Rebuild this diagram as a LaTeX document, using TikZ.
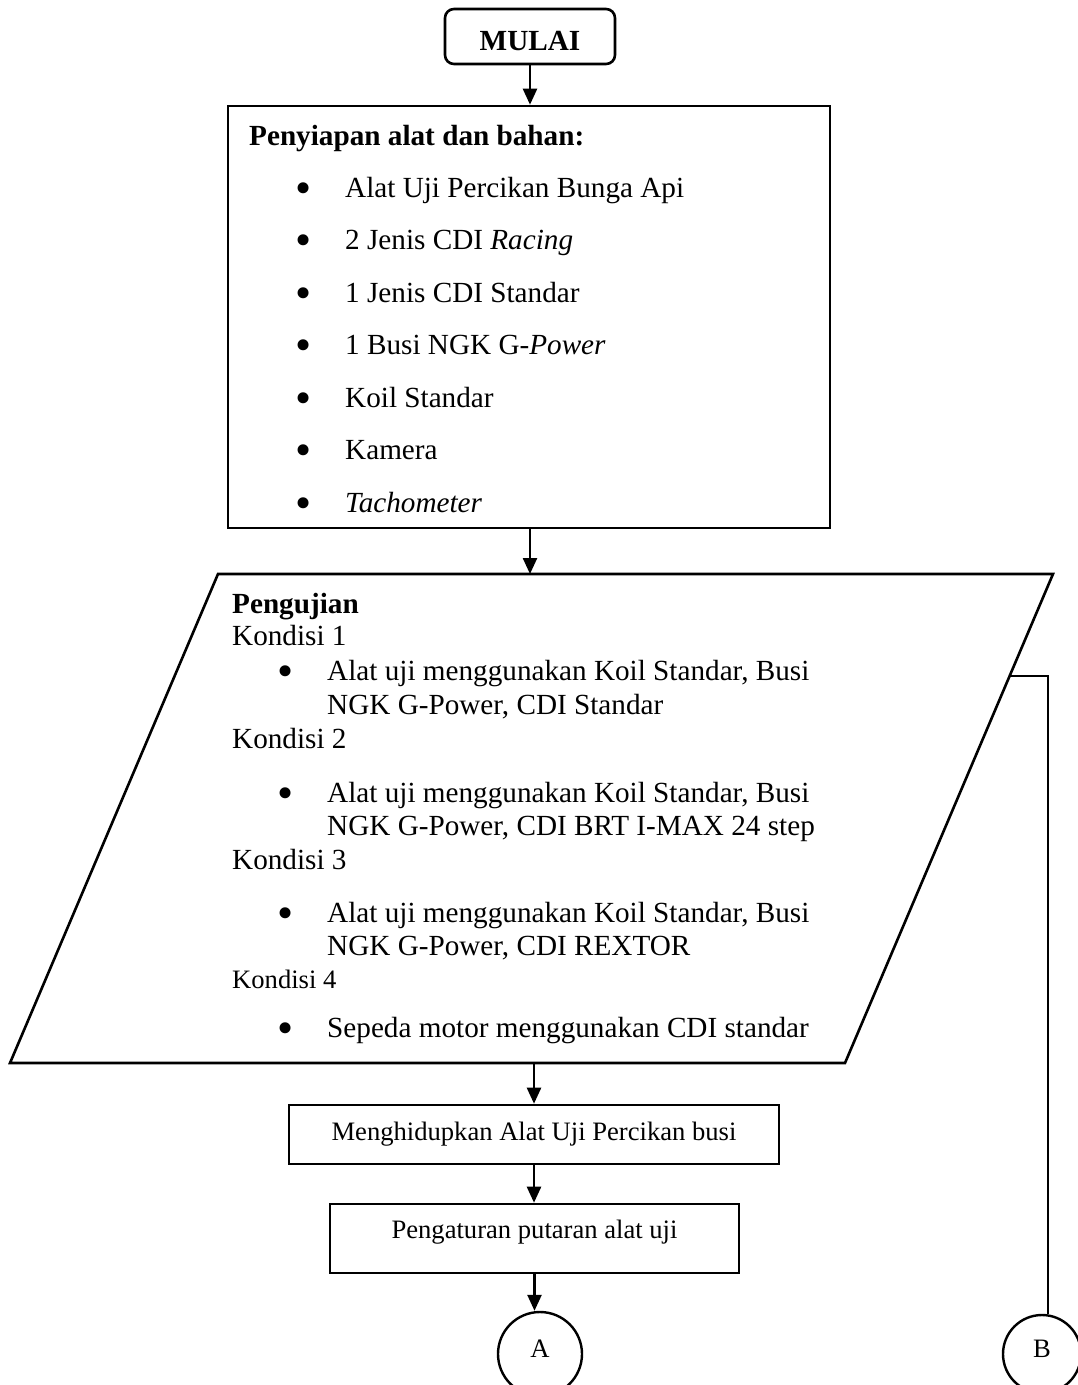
\documentclass[tikz,border=0pt]{standalone}
\usepackage{fontspec}
\setmainfont{Liberation Serif}
\usepackage{tikz}
\usetikzlibrary{positioning}
\usetikzlibrary{arrows.meta}

\newcommand\hurufbesar{\fontsize{29.2}{35}\selectfont}
\newcommand\hurufkecil{\fontsize{26.6}{32}\selectfont}
\newcommand\butir{\raisebox{-6pt}{\fontsize{46}{46}\selectfont\textbullet}}

\begin{document}
\begin{tikzpicture}[x=1pt, y=-1pt]
		\tikzstyle{terminal} = [draw, line width = 2.6pt, rounded corners = 9pt, minimum width = 170pt, minimum height = 55pt, inner sep = 0pt, font = \hurufbesar\bfseries, text height = 27pt, text depth = 0pt]
		\tikzstyle{proses} = [draw, line width = 2.6pt, shape = rectangle, inner sep = 0pt, font = \hurufkecil]
		\tikzstyle{konektor} = [draw, line width = 2.4pt, shape = circle, inner sep = 0pt, font = \hurufkecil, text height = 17pt, text depth = 11pt]
		\tikzstyle{teks} = [anchor = base west, inner sep = 0pt, font = \hurufbesar]
		\tikzstyle{titik} = [anchor = base, inner sep = 0pt, font = \hurufbesar]
		\tikzstyle{panah} = [-{Triangle[length = 16pt, width = 14pt]}, line width = 2.4pt]
		\useasboundingbox (0, 0) rectangle (1078, 1385);

	% Simpul
		\node[terminal] (mulai) at (530, 36.5) {MULAI};

		\node[draw, line width = 2.6pt, minimum width = 602pt, minimum height = 422pt, inner sep = 0pt] (siap) at (529, 317) {};
		\node[teks, font = \hurufbesar\bfseries] (judul) at (249, 145) {Penyiapan alat dan bahan:};
		\node[titik] (t1) at (303.5, 197) {\butir};
		\node[teks] (b1) at (345, 197) {Alat Uji Percikan Bunga Api};
		\node[titik] (t2) at (303.5, 249.5) {\butir};
		\node[teks] (b2) at (345, 249.5) {2 Jenis CDI \textit{Racing}};
		\node[titik] (t3) at (303.5, 302) {\butir};
		\node[teks] (b3) at (345, 302) {1 Jenis CDI Standar};
		\node[titik] (t4) at (303.5, 354.5) {\butir};
		\node[teks] (b4) at (345, 354.5) {1 Busi NGK G-\textit{Power}};
		\node[titik] (t5) at (303.5, 407) {\butir};
		\node[teks] (b5) at (345, 407) {Koil Standar};
		\node[titik] (t6) at (303.5, 459.5) {\butir};
		\node[teks] (b6) at (345, 459.5) {Kamera};
		\node[titik] (t7) at (303.5, 512) {\butir};
		\node[teks] (b7) at (345, 512) {\textit{Tachometer}};

		% jajar genjang pengujian
		\coordinate (pKiriAtas) at (218, 574);
		\coordinate (pKananAtas) at (1053, 574);
		\coordinate (pKananBawah) at (845, 1063);
		\coordinate (pKiriBawah) at (10, 1063);
		\coordinate (pMasuk) at (530, 574);
		\coordinate (pKeluar) at (534, 1063);
		\coordinate (pSisi) at (1009.5, 676);
		\draw[line width = 2.6pt, line join = miter] (pKiriAtas) -- (pKananAtas) -- (pKananBawah) -- (pKiriBawah) -- cycle;

		\node[teks, font = \hurufbesar\bfseries] (uji) at (232, 613) {Pengujian};
		\node[teks] (k1) at (232, 645) {Kondisi 1};
		\node[titik] (u1) at (286, 680) {\butir};
		\node[teks] (a1) at (327, 680) {Alat uji menggunakan Koil Standar, Busi};
		\node[teks] (c1) at (327, 714) {NGK G-Power, CDI Standar};
		\node[teks] (k2) at (232, 748) {Kondisi 2};
		\node[titik] (u2) at (286, 802) {\butir};
		\node[teks] (a2) at (327, 802) {Alat uji menggunakan Koil Standar, Busi};
		\node[teks] (c2) at (327, 835) {NGK G-Power, CDI BRT I-MAX 24 step};
		\node[teks] (k3) at (232, 869) {Kondisi 3};
		\node[titik] (u3) at (286, 922) {\butir};
		\node[teks] (a3) at (327, 922) {Alat uji menggunakan Koil Standar, Busi};
		\node[teks] (c3) at (327, 955) {NGK G-Power, CDI REXTOR};
		\node[teks, font = \hurufkecil] (k4) at (232, 988) {Kondisi 4};
		\node[titik] (u4) at (286, 1037) {\butir};
		\node[teks] (a4) at (327, 1037) {Sepeda motor menggunakan CDI standar};

		\node[proses, minimum width = 490pt, minimum height = 59pt, text height = 18pt, text depth = 6pt] (hidup) at (534, 1134.5) {Menghidupkan Alat Uji Percikan busi};
		\node[proses, minimum width = 409pt, minimum height = 69pt, text height = 18pt, text depth = 19pt] (atur) at (534.5, 1238.5) {Pengaturan putaran alat uji};

		\node[konektor, minimum size = 84pt] (konA) at (540, 1354) {A};
		\node[konektor, minimum size = 78pt] (konB) at (1042, 1354) {B};

	% Panah
		\draw[panah] (mulai.south) -- (mulai.south |- siap.north);
		\draw[panah] (siap.south -| pMasuk) -- (pMasuk);
		\draw[panah] (pKeluar) -- (pKeluar |- hidup.north);
		\draw[panah] (hidup.south) -- (hidup.south |- atur.north);
		\draw[panah] (atur.south) -- (atur.south |- konA.north);
		\draw[line width = 1.7pt] (pSisi) -| (konB.81);

	\end{tikzpicture}
\end{document}
